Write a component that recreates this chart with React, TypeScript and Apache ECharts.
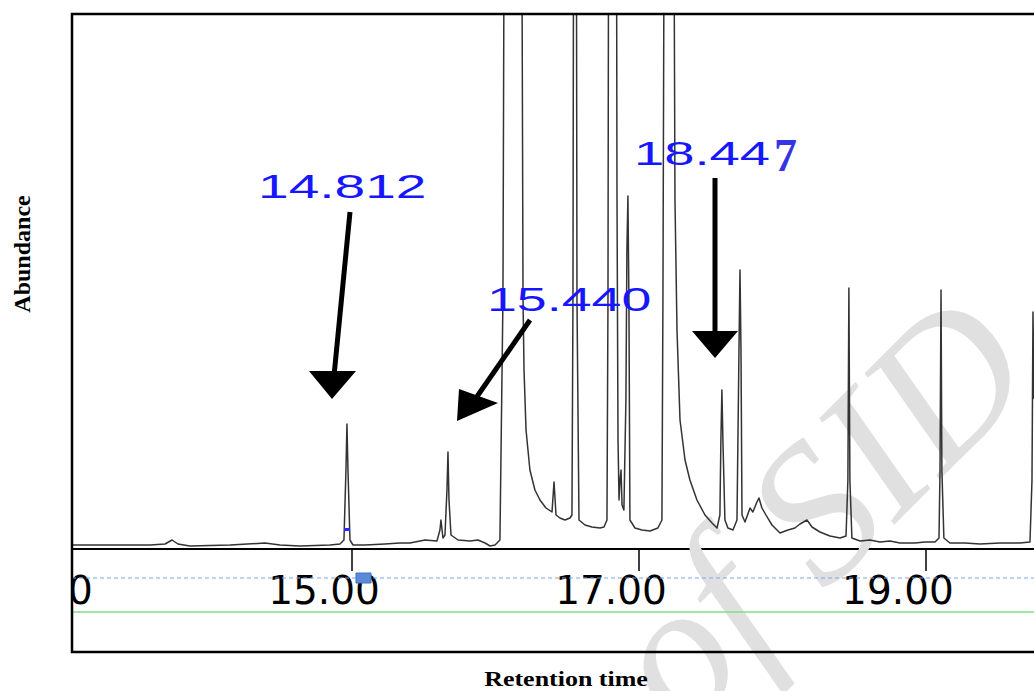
import React, { useEffect, useRef } from "react";
import * as echarts from "echarts";

// Retention time (min) and abundance (arbitrary units)
const retentionTime = [
  13.049, 13.383, 13.592, 13.697, 13.746, 13.787, 13.871, 14.15, 14.394, 14.498,
  14.638, 14.847, 14.916, 14.944, 14.958, 14.965, 14.972, 14.986, 15.007, 15.091,
  15.23, 15.334, 15.404, 15.509, 15.592, 15.613, 15.62, 15.634, 15.648, 15.662,
  15.669, 15.676, 15.69, 15.739, 15.822, 15.878, 15.927, 15.962, 15.997, 16.031,
  16.052, 16.066, 16.178, 16.192, 16.199, 16.213, 16.24, 16.275, 16.31, 16.352,
  16.394, 16.408, 16.422, 16.449, 16.484, 16.519, 16.533, 16.54, 16.547, 16.561,
  16.568, 16.582, 16.624, 16.672, 16.728, 16.756, 16.777, 16.784, 16.791, 16.84,
  16.847, 16.854, 16.861, 16.868, 16.875, 16.882, 16.895, 16.909, 16.916, 16.923,
  16.93, 16.937, 16.972, 17.021, 17.077, 17.132, 17.16, 17.167, 17.181, 17.237,
  17.251, 17.265, 17.286, 17.321, 17.355, 17.404, 17.46, 17.509, 17.544, 17.564,
  17.571, 17.578, 17.585, 17.599, 17.62, 17.655, 17.683, 17.697, 17.704, 17.711,
  17.718, 17.739, 17.774, 17.794, 17.822, 17.836, 17.857, 17.885, 17.927, 17.983,
  18.038, 18.087, 18.122, 18.171, 18.206, 18.261, 18.331, 18.401, 18.443, 18.456,
  18.463, 18.47, 18.484, 18.54, 18.61, 18.679, 18.749, 18.819, 18.923, 18.993,
  19.063, 19.091, 19.098, 19.105, 19.111, 19.125, 19.167, 19.272, 19.376, 19.516,
  19.655, 19.725, 19.739, 19.746, 19.753,
];
const abundance = [
  4, 4, 4, 5, 9, 5, 3, 4, 6, 4,
  3, 4, 5, 9, 79, 125, 79, 9, 4, 4,
  5, 6, 6, 9, 8, 19, 29, 11, 14, 59,
  97, 49, 14, 9, 8, 9, 6, 3, 4, 9,
  249, 900, 900, 249, 179, 119, 79, 59, 49, 41,
  37, 67, 34, 31, 29, 31, 34, 249, 900, 900,
  249, 29, 24, 22, 21, 22, 29, 249, 900, 900,
  349, 109, 49, 69, 79, 44, 39, 149, 299, 353,
  249, 29, 21, 19, 18, 21, 29, 249, 900, 900,
  349, 219, 129, 89, 69, 49, 34, 26, 21, 34,
  109, 159, 109, 29, 21, 19, 29, 199, 279, 199,
  34, 27, 41, 37, 47, 51, 41, 34, 24, 16,
  19, 21, 25, 29, 22, 17, 13, 11, 13, 69,
  261, 69, 11, 8, 9, 7, 8, 6, 6, 7,
  7, 11, 79, 259, 79, 11, 6, 6, 5, 6,
  6, 7, 69, 237, 150,
];

// Axis settings
const timeMin = 13;
const timeMax = 19.753;
const timeStep = 2;
const abundanceMax = 535;

// Annotation labels
const peakLabels = ["14.812", "15.440", "18.44"];
const peakLabelTail = "7";
const yTitle = "Abundance";
const xTitle = "Retention time";
const watermark = "of SID";

export default function App() {
  const ref = useRef<HTMLDivElement>(null);

  useEffect(() => {
    if (!ref.current) return;
    const chart = echarts.init(ref.current, null, { renderer: "svg" });
    const blue = "#1616ff";
    const labelStyle = {
      fill: blue,
      fontFamily: "'Liberation Sans', Arial, sans-serif",
      fontSize: 34,
      textAlign: "left",
      textVerticalAlign: "middle",
    };
    chart.setOption({
      animation: false,
      backgroundColor: "#ffffff",
      grid: {
        left: 65,
        right: 0,
        top: 14,
        bottom: 142,
        containLabel: false,
        outerBoundsMode: "none",
      },
      xAxis: {
        type: "value",
        min: timeMin,
        max: timeMax,
        interval: timeStep,
        axisLine: { show: true, onZero: false, lineStyle: { color: "#000", width: 2 } },
        axisTick: { show: true, inside: false, length: 22, lineStyle: { color: "#000", width: 1.5 } },
        axisLabel: {
          show: true,
          margin: 22,
          padding: [0, 56, 0, 0],
          fontSize: 39,
          fontFamily: "'DejaVu Sans', sans-serif",
          color: "#000",
          formatter: (v: number) => v.toFixed(2),
        },
        splitLine: { show: false },
      },
      yAxis: {
        type: "value",
        min: 0,
        max: abundanceMax,
        show: false,
      },
      series: [
        {
          type: "line",
          z: 5,
          data: retentionTime.map((t, i) => [t, abundance[i]]),
          symbol: "none",
          clip: true,
          lineStyle: { color: "#333333", width: 1.5, join: "round" },
        },
      ],
      graphic: [
        // watermark
        {
          type: "text",
          z: 1,
          x: 815,
          y: 510,
          rotation: (45 * Math.PI) / 180,
          style: {
            text: watermark,
            fill: "#e0e0e0",
            fontFamily: "'Liberation Serif', serif",
            fontStyle: "italic",
            fontSize: 196,
            textAlign: "center",
            textVerticalAlign: "middle",
          },
        },
        // cover left of box in the axis area
        {
          type: "rect",
          z: 50,
          shape: { x: 0, y: 540, width: 71, height: 112 },
          style: { fill: "#ffffff" },
        },
        // axis decorations
        {
          type: "line",
          z: 40,
          shape: { x1: 72, y1: 578, x2: 1034, y2: 578 },
          style: { stroke: "#7fa6e8", lineWidth: 1.2, lineDash: [4, 3] },
        },
        {
          type: "line",
          z: 40,
          shape: { x1: 72, y1: 612, x2: 1034, y2: 612 },
          style: { stroke: "#7fe07f", lineWidth: 1.5 },
        },
        {
          type: "rect",
          z: 41,
          shape: { x: 356, y: 573, width: 15, height: 10 },
          style: { fill: "#5b8ad6", stroke: "#3f6fc4", lineWidth: 1 },
        },
        {
          type: "rect",
          z: 41,
          shape: { x: 344, y: 528, width: 6, height: 3 },
          style: { fill: "#2a2aff" },
        },
        // frame
        {
          type: "rect",
          z: 60,
          shape: { x: 72, y: 14, width: 1010, height: 638 },
          style: { fill: "none", stroke: "#000", lineWidth: 2.5 },
        },
        // peak labels
        {
          type: "text", z: 30, x: 258, y: 186, scaleX: 1.62,
          style: { ...labelStyle, text: peakLabels[0] },
        },
        {
          type: "text", z: 30, x: 487, y: 299, scaleX: 1.58,
          style: { ...labelStyle, text: peakLabels[1] },
        },
        {
          type: "text", z: 30, x: 634, y: 153, scaleX: 1.6,
          style: { ...labelStyle, text: peakLabels[2] },
        },
        {
          type: "text", z: 30, x: 774, y: 155,
          style: {
            text: peakLabelTail,
            fill: "#3434e6",
            fontFamily: "'Liberation Serif', serif",
            fontWeight: "bold",
            fontSize: 46,
            textAlign: "left",
            textVerticalAlign: "middle",
          },
        },
        // arrows
        {
          type: "line", z: 30,
          shape: { x1: 350, y1: 212, x2: 334, y2: 376 },
          style: { stroke: "#000", lineWidth: 5 },
        },
        {
          type: "polygon", z: 30,
          shape: { points: [[309, 371], [356, 371], [332, 399]] },
          style: { fill: "#000" },
        },
        {
          type: "line", z: 30,
          shape: { x1: 530, y1: 320, x2: 476, y2: 398 },
          style: { stroke: "#000", lineWidth: 5 },
        },
        {
          type: "polygon", z: 30,
          shape: { points: [[459, 389], [498, 403], [457, 421]] },
          style: { fill: "#000" },
        },
        {
          type: "line", z: 30,
          shape: { x1: 715, y1: 178, x2: 715, y2: 336 },
          style: { stroke: "#000", lineWidth: 5 },
        },
        {
          type: "polygon", z: 30,
          shape: { points: [[692, 331], [738, 331], [715, 358]] },
          style: { fill: "#000" },
        },
        // titles
        {
          type: "text", z: 30, x: 22, y: 254,
          rotation: Math.PI / 2,
          style: {
            text: yTitle,
            fill: "#000",
            fontFamily: "'Liberation Serif', serif",
            fontWeight: "bold",
            fontSize: 24,
            textAlign: "center",
            textVerticalAlign: "middle",
          },
        },
        {
          type: "text", z: 30, x: 566, y: 679, scaleX: 1.18,
          style: {
            text: xTitle,
            fill: "#000",
            fontFamily: "'Liberation Serif', serif",
            fontWeight: "bold",
            fontSize: 22,
            textAlign: "center",
            textVerticalAlign: "middle",
          },
        },
      ],
    });
    return () => chart.dispose();
  }, []);

  return (
    <div
      ref={ref}
      style={{ position: "fixed", left: 0, top: 0, width: 1034, height: 691, background: "#fff" }}
    />
  );
}
